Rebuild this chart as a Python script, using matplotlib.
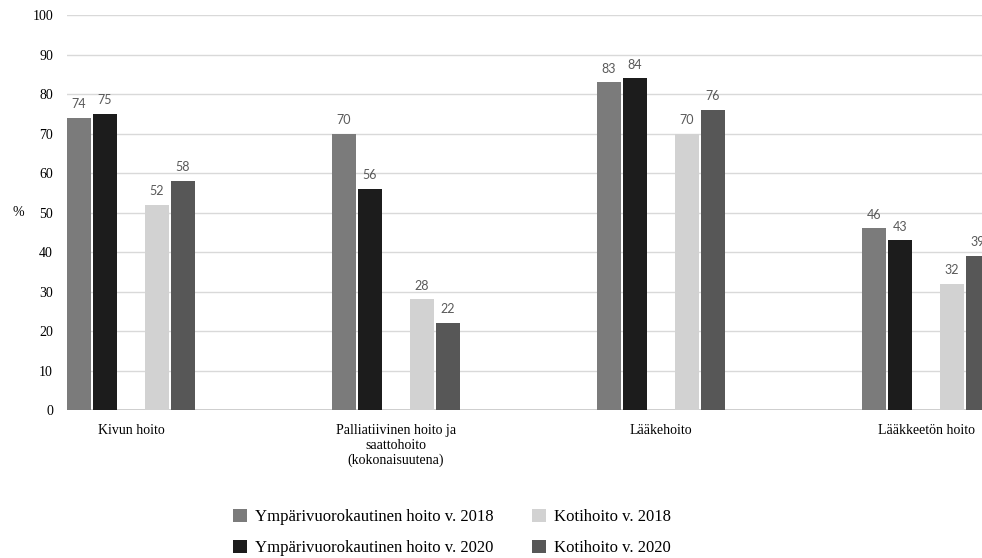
import numpy as np
import matplotlib
matplotlib.use("Agg")
import matplotlib.pyplot as plt
from matplotlib.patches import Patch

# data
categories = ["Kivun hoito", "Palliatiivinen hoito ja\nsaattohoito\n(kokonaisuutena)",
              "Lääkehoito", "Lääkkeetön hoito"]
series_names = ["Ympärivuorokautinen hoito v. 2018", "Ympärivuorokautinen hoito v. 2020",
                "Kotihoito v. 2018", "Kotihoito v. 2020"]
ymp_2018 = [74, 70, 83, 46]
ymp_2020 = [75, 56, 84, 43]
koti_2018 = [52, 28, 70, 32]
koti_2020 = [58, 22, 76, 39]
yticks = list(range(0, 101, 10))

serif = "Liberation Serif"
colors = ["#7b7b7b", "#1c1c1c", "#d2d2d2", "#575757"]
all_series = [ymp_2018, ymp_2020, koti_2018, koti_2020]

fig = plt.figure(figsize=(9.82, 5.58), dpi=100)
ax = fig.add_axes((0.0682, 0.2652, 0.9318, 0.7079))

x = np.arange(len(categories))
pitch = 0.0981
width = 0.091
offsets = [-2 * pitch, -pitch, pitch, 2 * pitch]

for vals, off, col in zip(all_series, offsets, colors):
    bars = ax.bar(x + off, vals, width, color=col, zorder=3)
    for b, v in zip(bars, vals):
        ax.annotate(str(v), (b.get_x() + b.get_width() / 2, v), xytext=(0, 5.5),
                    textcoords="offset points", ha="center", va="bottom",
                    fontsize=9, family="Lato", color="#595959")

ax.set_xlim(-0.2415, 3.211)
ax.set_ylim(0, 100)
ax.set_yticks(yticks)
ax.set_yticklabels([str(t) for t in yticks], family=serif, fontsize=10)
ax.set_xticks(x)
ax.set_xticklabels(categories, family=serif, fontsize=10, linespacing=1.2)
ax.tick_params(axis="both", length=0)
ax.tick_params(axis="y", pad=10)
ax.tick_params(axis="x", pad=10)
ax.grid(axis="y", color="#d9d9d9", linewidth=1.0, zorder=0)
ax.axhline(0, color="#c8c8c8", linewidth=1.2, zorder=2)
for s in ax.spines.values():
    s.set_visible(False)
ax.set_ylabel("%", family=serif, fontsize=10, rotation=0, va="center")
ax.yaxis.set_label_coords(-0.053, 0.5)

handles = [Patch(facecolor=c, edgecolor="none") for c in colors]
fig.legend(handles, series_names, loc="center", bbox_to_anchor=(0.46, 0.0457), ncol=2,
           frameon=False, prop={"family": serif, "size": 12}, handlelength=0.84,
           handleheight=0.84, handletextpad=0.48, columnspacing=2.3, labelspacing=0.9)

fig.savefig("out.png", dpi=100)
